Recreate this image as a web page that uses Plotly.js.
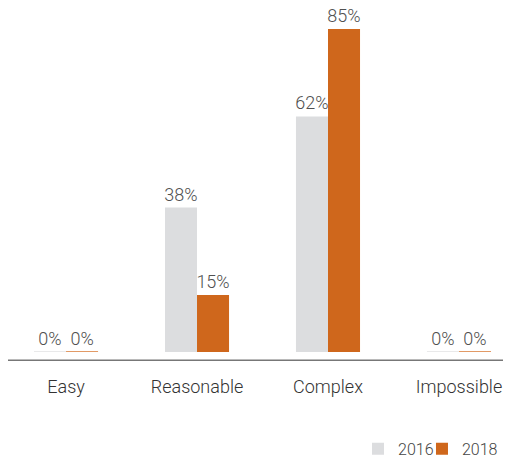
<!DOCTYPE html>
<html><head><meta charset="utf-8">
<script src="https://cdn.plot.ly/plotly-3.0.1.min.js"></script>
<style>html,body{margin:0;padding:0;background:#fff}#c{width:511px;height:458px}</style>
</head><body><div id="c"></div>
<script>
const categories = ["Easy", "Reasonable", "Complex", "Impossible"];
const seriesNames = ["2016", "2018"];
const values2016 = [0, 38, 62, 0];
const values2018 = [0, 15, 85, 0];
const colors = ["#dcdddf", "#cf671c"];
const zeroColors = ["#e9e9ea", "#e29a66"];

const allVals = [values2016, values2018];
const FONT = "Roboto, Liberation Sans, Arial, sans-serif";
const bargap = 0.511;
const barW = (1 - bargap) / 2;
const legendIds = ["legend", "legend2"];

const traces = allVals.map((v, i) => ({
  type: "bar",
  name: seriesNames[i],
  legend: legendIds[i],
  x: categories,
  y: v,
  marker: {color: colors[i]},
  text: v.map(d => d + "%"),
  textposition: "outside",
  constraintext: "none",
  cliponaxis: false,
  textfont: {family: FONT, size: 18, color: "#505050", weight: 300},
  hoverinfo: "none"
}));

const shapes = [];
allVals.forEach((v, i) => {
  v.forEach((d, j) => {
    if (d === 0) {
      const c = j + (i - 0.5) * barW;
      shapes.push({type: "line", xref: "x", yref: "y",
        x0: c - barW / 2, x1: c + barW / 2, y0: 0, y1: 0,
        line: {color: zeroColors[i], width: 2}});
    }
  });
});
// baseline axis line slightly below bars
shapes.push({type: "line", xref: "paper", yref: "paper", x0: 0, x1: 1,
  y0: -0.024, y1: -0.024, line: {color: "#777", width: 1.5}});

const legendBase = {orientation: "h", xref: "container", yref: "container",
  xanchor: "left", y: 0.02, yanchor: "middle", bgcolor: "rgba(0,0,0,0)",
  font: {family: FONT, size: 16, color: "#444", weight: 300}, itemwidth: 30};

const layout = {
  width: 511, height: 458,
  margin: {l: 8, r: 8, t: 10, b: 106},
  paper_bgcolor: "#fff", plot_bgcolor: "#fff",
  barmode: "group", bargap: bargap, bargroupgap: 0,
  showlegend: true,
  legend: Object.assign({}, legendBase, {x: 0.7006}),
  legend2: Object.assign({}, legendBase, {x: 0.8258}),
  xaxis: {range: [-0.443, 3.336], showgrid: false, zeroline: false, showline: false,
    ticks: "outside", ticklen: 18, tickcolor: "rgba(0,0,0,0)", automargin: false,
    tickfont: {family: FONT, size: 18, color: "#333", weight: 300}, fixedrange: true},
  yaxis: {range: [0, 90], showgrid: false, zeroline: false, showline: false,
    showticklabels: false, fixedrange: true, automargin: false},
  shapes: shapes,
  font: {family: FONT}
};

Plotly.newPlot("c", traces, layout, {displayModeBar: false, staticPlot: true});
</script></body></html>
